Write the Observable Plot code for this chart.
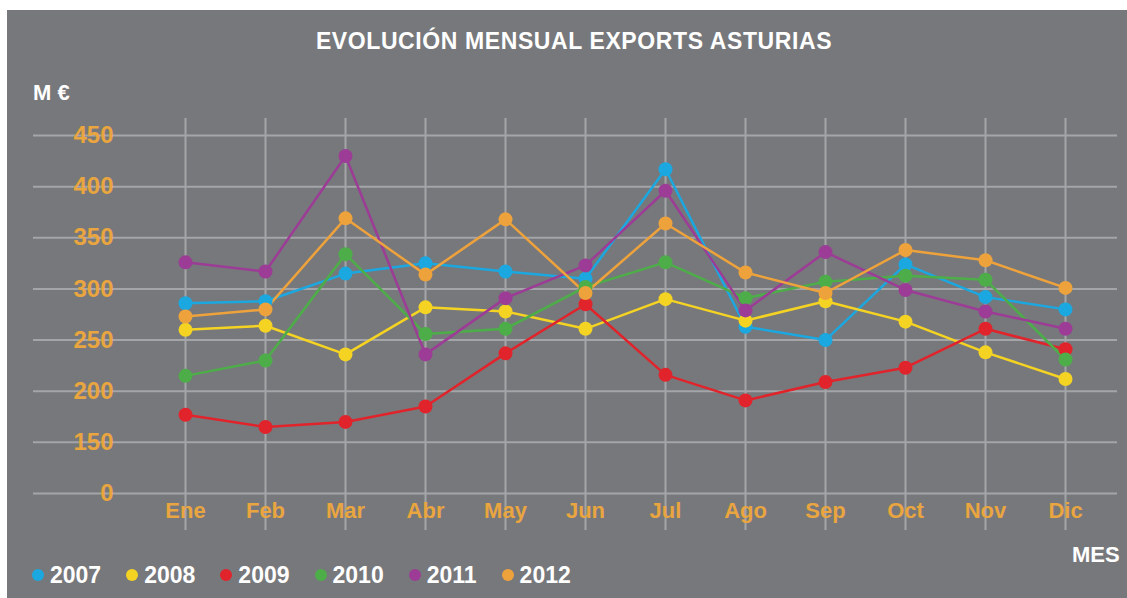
<!DOCTYPE html>
<html>
<head>
<meta charset="utf-8">
<script src="https://cdn.jsdelivr.net/npm/d3@7"></script>
<script src="https://cdn.jsdelivr.net/npm/@observablehq/plot@0.6"></script>
<style>
  html, body { margin: 0; padding: 0; background: #ffffff; width: 1127px; height: 598px; overflow: hidden; }
  #page { position: relative; width: 1127px; height: 598px; font-family: "Liberation Sans", Arial, sans-serif; font-weight: bold; }
  #panel { position: absolute; left: 7px; top: 10px; right: 0; bottom: 0; background: #77787b; }
  #title { position: absolute; left: 0; width: 1148px; top: 27px; text-align: center; color: #ffffff; font-size: 23px; letter-spacing: 0.6px; line-height: 28px; }
  #ylab { position: absolute; left: 33px; top: 80px; color: #ffffff; font-size: 22px; line-height: 26px; }
  #xlab { position: absolute; left: 1072px; top: 542px; color: #ffffff; font-size: 22px; line-height: 26px; }
  #chart { position: absolute; left: 0; top: 110px; }
  #legend { position: absolute; left: 32px; top: 562px; display: flex; align-items: center; color: #ffffff; font-size: 23px; line-height: 26px; }
  .item { display: flex; align-items: center; margin-right: 25px; }
  .sw { width: 12px; height: 12px; border-radius: 50%; margin-right: 6px; }
</style>
</head>
<body>
<div id="page">
  <div id="panel"></div>
  <div id="title"></div>
  <div id="ylab"></div>
  <div id="xlab"></div>
  <div id="chart"></div>
  <div id="legend"></div>
</div>
<script>
const titleText = "EVOLUCIÓN MENSUAL EXPORTS ASTURIAS";
const yTitle = "M €";
const xTitle = "MES";
const months = ["Ene","Feb","Mar","Abr","May","Jun","Jul","Ago","Sep","Oct","Nov","Dic"];
const years = ["2007","2008","2009","2010","2011","2012"];
const colors = ["#1ba8e0","#f5d323","#e1232b","#4dae49","#9c3c96","#eea23c"];
const yTicks = [100,150,200,250,300,350,400,450];
const yTickLabels = ["0","150","200","250","300","350","400","450"];

const v2007 = [286, 288, 315, 325, 317, 310, 417, 263, 250, 324, 292, 280];
const v2008 = [260, 264, 236, 282, 278, 261, 290, 269, 288, 268, 238, 212];
const v2009 = [177, 165, 170, 185, 237, 285, 216, 191, 209, 223, 261, 241];
const v2010 = [215, 230, 334, 256, 261, 302, 326, 291, 307, 313, 309, 231];
const v2011 = [326, 317, 430, 236, 291, 323, 396, 279, 336, 299, 278, 261];
const v2012 = [273, 280, 369, 314, 368, 296, 364, 316, 296, 338, 328, 301];

const series = [v2007, v2008, v2009, v2010, v2011, v2012];
const rows = [];
series.forEach((vals, s) => vals.forEach((v, i) => rows.push({year: years[s], month: months[i], value: v})));

const grid = "#a4a5a8";
const tickColor = "#e9a53f";
const fontFamily = '"Liberation Sans", Arial, sans-serif';

document.getElementById("title").textContent = titleText;
document.getElementById("ylab").textContent = yTitle;
document.getElementById("xlab").textContent = xTitle;

const chart = Plot.plot({
  width: 1127,
  height: 430,
  marginLeft: 33,
  marginRight: 10,
  marginTop: 8,
  marginBottom: 10,
  style: {background: "transparent", fontFamily: fontFamily, overflow: "visible"},
  x: {type: "point", domain: months, range: [180, 1070], padding: 0, axis: null},
  y: {domain: [100, 450], range: [383, 25], axis: null},
  color: {domain: years, range: colors},
  marks: [
    Plot.ruleY(yTicks, {y: d => d, stroke: grid, strokeWidth: 2}),
    Plot.ruleX(months, {x: d => d, stroke: grid, strokeWidth: 2}),
    Plot.text(yTicks, {y: d => d, text: (d, i) => yTickLabels[i], frameAnchor: "left", dx: 80, textAnchor: "end", fill: tickColor, fontSize: 24, fontWeight: "bold"}),
    Plot.text(months, {x: d => d, text: d => d, frameAnchor: "bottom", lineAnchor: "middle", dy: -20, fill: tickColor, fontSize: 22, fontWeight: "bold"}),
    Plot.line(rows, {x: "month", y: "value", z: "year", stroke: "year", strokeWidth: 2.5}),
    Plot.dot(rows, {x: "month", y: "value", fill: "year", r: 7})
  ]
});
document.getElementById("chart").appendChild(chart);

const legend = document.getElementById("legend");
years.forEach((y, i) => {
  const item = document.createElement("div");
  item.className = "item";
  const sw = document.createElement("span");
  sw.className = "sw";
  sw.style.background = colors[i];
  const t = document.createElement("span");
  t.textContent = y;
  item.appendChild(sw);
  item.appendChild(t);
  legend.appendChild(item);
});
</script>
</body>
</html>
